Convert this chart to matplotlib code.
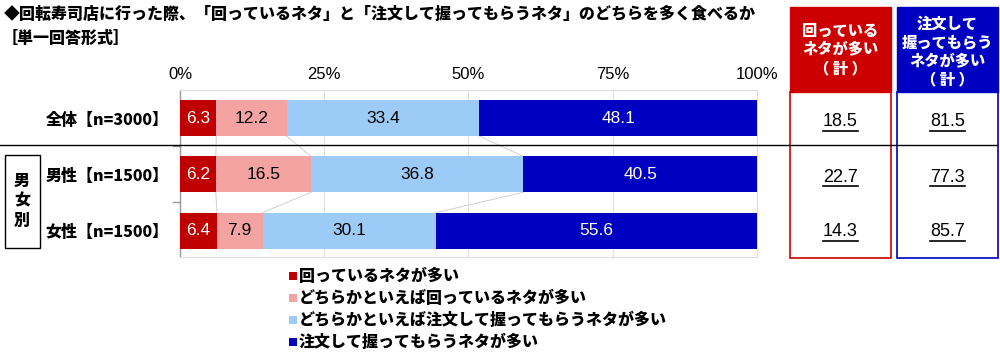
import matplotlib
matplotlib.use("Agg")
import matplotlib.pyplot as plt
from matplotlib.patches import Rectangle
from matplotlib.lines import Line2D
import numpy as np

plt.rcParams['font.family'] = ['Noto Sans CJK JP', 'DejaVu Sans']

# データ
groups = ['全体【n=3000】', '男性【n=1500】', '女性【n=1500】']
series_names = ['回っているネタが多い',
                'どちらかといえば回っているネタが多い',
                'どちらかといえば注文して握ってもらうネタが多い',
                '注文して握ってもらうネタが多い']
values = np.array([[6.3, 12.2, 33.4, 48.1],
                   [6.2, 16.5, 36.8, 40.5],
                   [6.4, 7.9, 30.1, 55.6]])
kaiten_total = [18.5, 22.7, 14.3]
chumon_total = [81.5, 77.3, 85.7]
colors = ['#C00000', '#F4A3A3', '#9DCBF7', '#0000C0']
label_colors = ['white', 'black', 'black', 'white']
xticks = [0, 25, 50, 75, 100]

W, H = 1000, 357
fig = plt.figure(figsize=(W / 100, H / 100), dpi=100)

def fx(px):
    return px / W

def fy(py):
    return 1 - py / H

# タイトル
fig.text(fx(4), fy(14), '◆回転寿司店に行った際、「回っているネタ」と「注文して握ってもらうネタ」のどちらを多く食べるか',
         fontsize=11.5, fontweight='heavy', va='center', ha='left')
fig.text(fx(2), fy(38), '［単一回答形式］', fontsize=11.5, fontweight='heavy', va='center', ha='left')

# 帯グラフ
ax = fig.add_axes([fx(180), fy(257), fx(757) - fx(180), fy(90) - fy(257)])
y = np.arange(len(groups))
bh = 0.64
left = np.zeros(len(groups))
for j in range(values.shape[1]):
    ax.barh(y, values[:, j], left=left, height=bh, color=colors[j], edgecolor='none', zorder=3)
    for i in range(len(groups)):
        ax.text(left[i] + values[i, j] / 2, y[i], f'{values[i, j]:.1f}', ha='center', va='center',
                color=label_colors[j], fontsize=12.5, family=['Liberation Sans'], zorder=4)
    left = left + values[:, j]

# 系列線
cum = np.cumsum(values, axis=1)
for i in range(len(groups) - 1):
    for j in range(values.shape[1] - 1):
        ax.plot([cum[i, j], cum[i + 1, j]], [y[i] + bh / 2, y[i + 1] - bh / 2],
                color='#d0d0d0', lw=0.7, zorder=2)

ax.set_xlim(0, 100)
ax.set_ylim(2.47, -0.5)
ax.set_xticks(xticks)
ax.set_xticklabels([f'{t}%' for t in xticks], fontsize=12, family=['Liberation Sans'])
ax.xaxis.tick_top()
ax.tick_params(axis='x', length=0, pad=6)
ax.set_yticks(y)
ax.set_yticklabels(groups, fontsize=11.5, fontweight='heavy')
ax.tick_params(axis='y', length=0, pad=8)
ax.grid(axis='x', color='#e0e0e0', lw=0.8, zorder=0)
for s in ['top', 'right', 'bottom']:
    ax.spines[s].set_color('#dddddd')
ax.spines['left'].set_color('#999999')
ax.spines['left'].set_linewidth(1.0)
for yy in [0.5, 1.5]:
    ax.plot([-1.2, 0], [yy, yy], color='#999999', lw=1.0, clip_on=False)

# 区切り線
fig.add_artist(Line2D([0, fx(997)], [fy(145), fy(145)], color='black', lw=1.0))

# 男女別
fig.add_artist(Rectangle((fx(5), fy(248)), fx(35), fy(155) - fy(248), transform=fig.transFigure,
                         facecolor='white', edgecolor='black', lw=1.0))
fig.text(fx(22), fy(201), '男\n女\n別', ha='center', va='center', fontsize=11.5, fontweight='heavy',
         linespacing=1.35)

# 右側パネル
panels = [(790, 891, '#CC0000', '回っている\nネタが多い\n（ 計 ）', kaiten_total, 50),
          (897, 998, '#0000C0', '注文して\n握ってもらう\nネタが多い\n（ 計 ）', chumon_total, 52)]
fig.canvas.draw()
renderer = fig.canvas.get_renderer()
for x0, x1, col, head, vals, hy in panels:
    fig.add_artist(Rectangle((fx(x0), fy(92)), fx(x1 - x0), fy(7) - fy(92), transform=fig.transFigure,
                             facecolor=col, edgecolor=col, lw=1.0))
    fig.add_artist(Rectangle((fx(x0), fy(258)), fx(x1 - x0), fy(92) - fy(258), transform=fig.transFigure,
                             facecolor='none', edgecolor=col, lw=1.2))
    xc = (x0 + x1) / 2
    fig.text(fx(xc), fy(hy), head, ha='center', va='center', color='white', fontsize=11,
             fontweight='heavy', linespacing=1.3)
    for v, py in zip(vals, [122, 177, 232]):
        t = fig.text(fx(xc), fy(py), f'{v:.1f}', ha='center', va='center', fontsize=13,
                     family=['Liberation Sans'])
        bb = t.get_window_extent(renderer)
        fig.add_artist(Line2D([bb.x0 / W, bb.x1 / W], [fy(py + 9), fy(py + 9)], color='black', lw=1.2))

# 凡例
for k, name in enumerate(series_names):
    py = 276 + k * 22
    fig.add_artist(Rectangle((fx(289), fy(py + 4)), fx(8), fy(py - 4) - fy(py + 4),
                             transform=fig.transFigure, facecolor=colors[k], edgecolor='none'))
    fig.text(fx(299), fy(py), name, ha='left', va='center', fontsize=11.5, fontweight='heavy')

fig.savefig('out.png', dpi=100)
